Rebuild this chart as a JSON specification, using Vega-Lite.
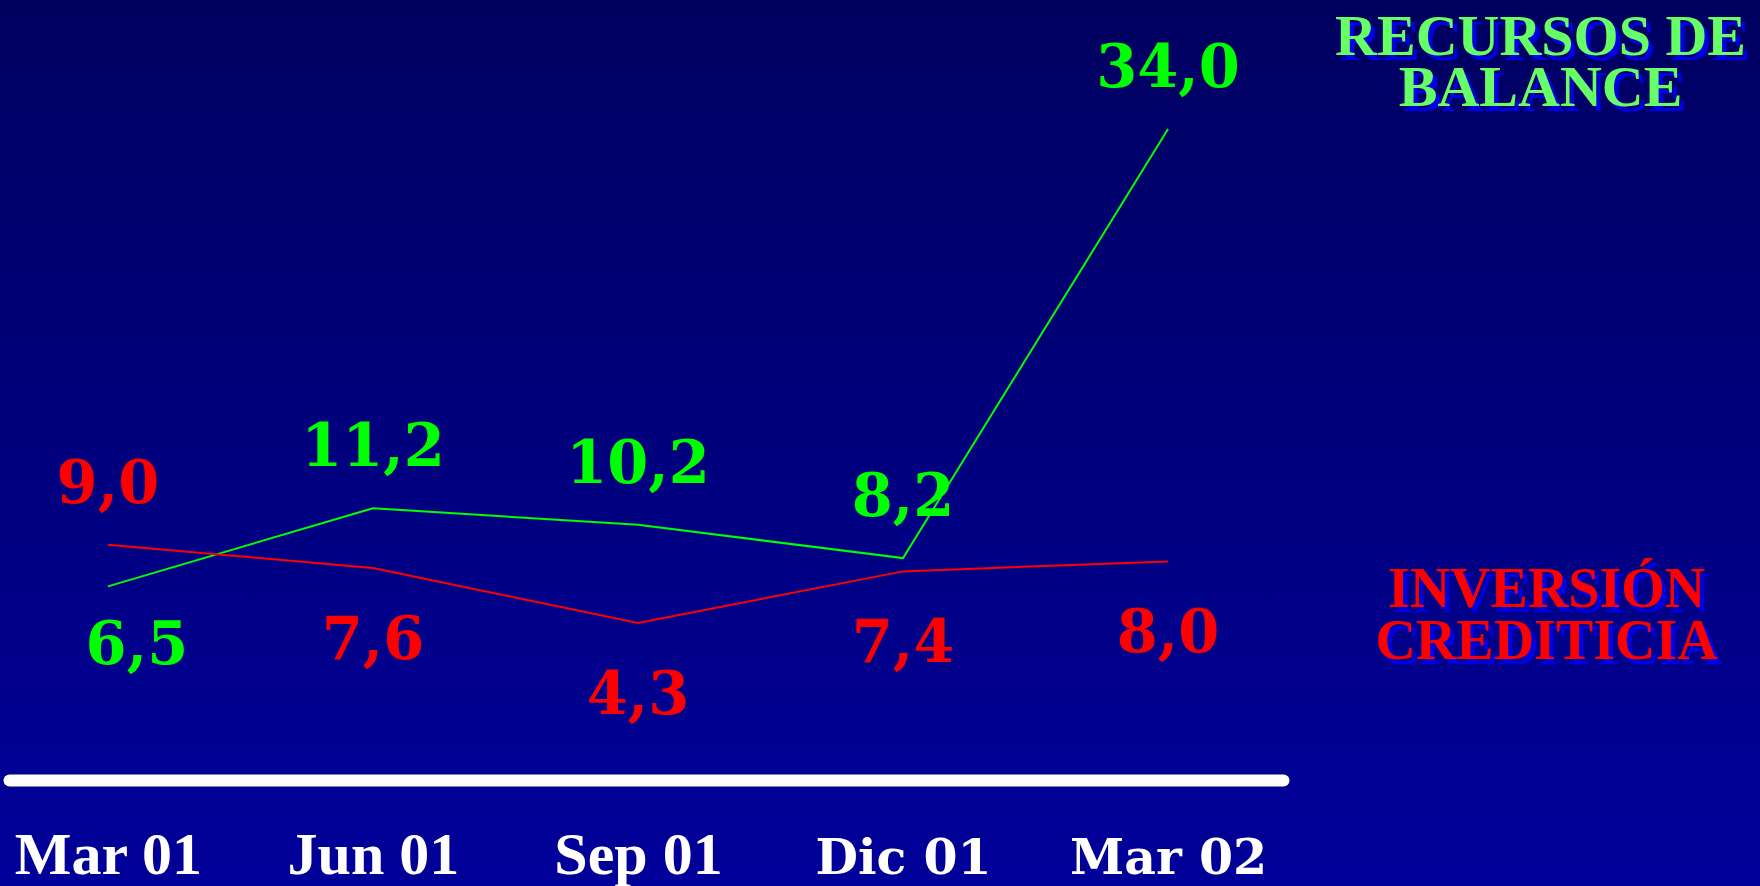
{
  "$schema": "https://vega.github.io/schema/vega-lite/v6.json",
  "width": 1760,
  "height": 886,
  "autosize": {"type": "none"},
  "padding": 0,
  "background": "#000099",
  "config": {
    "view": {
      "stroke": null,
      "fill": {"gradient": "linear", "x1": 0, "y1": 0, "x2": 0, "y2": 1,
        "stops": [{"offset": 0, "color": "#000060"}, {"offset": 1, "color": "#00009A"}]}
    },
    "locale": {"number": {"decimal": ",", "thousands": ".", "grouping": [3], "currency": ["", " €"]}}
  },
  "data": {
    "values": [
      {"periodo": "Mar 01", "serie": "Recursos de balance", "valor": 6.5},
      {"periodo": "Jun 01", "serie": "Recursos de balance", "valor": 11.2},
      {"periodo": "Sep 01", "serie": "Recursos de balance", "valor": 10.2},
      {"periodo": "Dic 01", "serie": "Recursos de balance", "valor": 8.2},
      {"periodo": "Mar 02", "serie": "Recursos de balance", "valor": 34.0},
      {"periodo": "Mar 01", "serie": "Inversión crediticia", "valor": 9.0},
      {"periodo": "Jun 01", "serie": "Inversión crediticia", "valor": 7.6},
      {"periodo": "Sep 01", "serie": "Inversión crediticia", "valor": 4.3},
      {"periodo": "Dic 01", "serie": "Inversión crediticia", "valor": 7.4},
      {"periodo": "Mar 02", "serie": "Inversión crediticia", "valor": 8.0}
    ]
  },
  "encoding": {
    "x": {
      "field": "periodo", "type": "ordinal",
      "sort": ["Mar 01", "Jun 01", "Sep 01", "Dic 01", "Mar 02"],
      "scale": {"type": "point", "range": [9, 1283], "padding": 0.4035, "align": 0.4626},
      "axis": {
        "title": null, "orient": "bottom", "offset": -106,
        "domainColor": "#FFFFFF", "domainWidth": 12, "domainCap": "round",
        "ticks": false, "tickSize": 0, "grid": false,
        "labelColor": "#FFFFFF", "labelAngle": 0, "labelAlign": "center",
        "labelBaseline": "alphabetic", "labelPadding": 93,
        "labelOverlap": false, "labelLimit": 0, "labelBound": false, "labelFlush": false,
        "labelFontWeight": "bold",
        "labelFont": {"condition": {"test": "indexof(['Mar 01','Jun 01','Sep 01'], datum.value) >= 0", "value": "Liberation Serif"}, "value": "DejaVu Serif"},
        "labelFontSize": {"condition": {"test": "indexof(['Mar 01','Jun 01','Sep 01'], datum.value) >= 0", "value": 60}, "value": 49}
      }
    },
    "y": {
      "field": "valor", "type": "quantitative",
      "scale": {"domain": [-11.52, 41.76], "nice": false, "zero": false},
      "axis": null
    },
    "color": {
      "field": "serie", "type": "nominal",
      "scale": {"domain": ["Recursos de balance", "Inversión crediticia"], "range": ["#00FF00", "#FF0000"]},
      "legend": null
    }
  },
  "layer": [
    {"mark": {"type": "line", "strokeWidth": 2}},
    {
      "transform": [{"filter": "(datum.serie == 'Recursos de balance' && datum.periodo != 'Mar 01') || (datum.serie == 'Inversión crediticia' && datum.periodo == 'Mar 01')"}],
      "mark": {"type": "text", "font": "DejaVu Serif", "fontWeight": "bold", "fontSize": 59, "align": "center", "baseline": "alphabetic", "dy": -42},
      "encoding": {"text": {"field": "valor", "type": "quantitative", "format": ".1f"}}
    },
    {
      "transform": [{"filter": "datum.serie == 'Inversión crediticia' && datum.periodo != 'Mar 01'"}],
      "mark": {"type": "text", "font": "DejaVu Serif", "fontWeight": "bold", "fontSize": 59, "align": "center", "baseline": "alphabetic", "dy": 91},
      "encoding": {"text": {"field": "valor", "type": "quantitative", "format": ".1f"}}
    },
    {
      "transform": [{"filter": "datum.serie == 'Recursos de balance' && datum.periodo == 'Mar 01'"}],
      "mark": {"type": "text", "font": "DejaVu Serif", "fontWeight": "bold", "fontSize": 59, "align": "center", "baseline": "alphabetic", "dx": 29, "dy": 78},
      "encoding": {"text": {"field": "valor", "type": "quantitative", "format": ".1f"}}
    },
    {
      "transform": [
        {"filter": "datum.serie == 'Recursos de balance' && datum.periodo == 'Mar 02'"},
        {"calculate": "['RECURSOS DE', 'BALANCE']", "as": "nombre"}
      ],
      "mark": {"type": "text", "font": "Liberation Serif", "fontWeight": "bold", "fontSize": 58, "align": "center", "baseline": "alphabetic", "lineHeight": 51, "dx": 377, "dy": -69},
      "encoding": {"text": {"field": "nombre", "type": "nominal"}, "color": {"value": "#0000E6"}}
    },
    {
      "transform": [
        {"filter": "datum.serie == 'Recursos de balance' && datum.periodo == 'Mar 02'"},
        {"calculate": "['RECURSOS DE', 'BALANCE']", "as": "nombre"}
      ],
      "mark": {"type": "text", "font": "Liberation Serif", "fontWeight": "bold", "fontSize": 58, "align": "center", "baseline": "alphabetic", "lineHeight": 51, "dx": 372.5, "dy": -74},
      "encoding": {"text": {"field": "nombre", "type": "nominal"}, "color": {"value": "#66FF66"}}
    },
    {
      "transform": [
        {"filter": "datum.serie == 'Inversión crediticia' && datum.periodo == 'Mar 02'"},
        {"calculate": "['INVERSIÓN', 'CREDITICIA']", "as": "nombre"}
      ],
      "mark": {"type": "text", "font": "Liberation Serif", "fontWeight": "bold", "fontSize": 56, "align": "center", "baseline": "alphabetic", "lineHeight": 52, "dx": 383, "dy": 51},
      "encoding": {"text": {"field": "nombre", "type": "nominal"}, "color": {"value": "#0000E6"}}
    },
    {
      "transform": [
        {"filter": "datum.serie == 'Inversión crediticia' && datum.periodo == 'Mar 02'"},
        {"calculate": "['INVERSIÓN', 'CREDITICIA']", "as": "nombre"}
      ],
      "mark": {"type": "text", "font": "Liberation Serif", "fontWeight": "bold", "fontSize": 56, "align": "center", "baseline": "alphabetic", "lineHeight": 52, "dx": 378.5, "dy": 46},
      "encoding": {"text": {"field": "nombre", "type": "nominal"}, "color": {"value": "#FF0000"}}
    }
  ]
}
